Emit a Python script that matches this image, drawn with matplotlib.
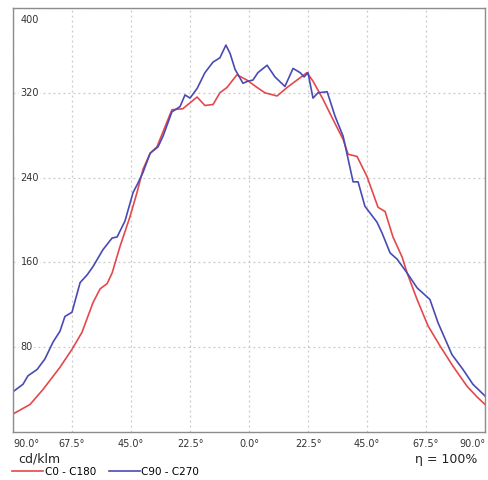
import numpy as np
import matplotlib.pyplot as plt
from matplotlib.ticker import FuncFormatter

# C0 - C180 plane (angle in degrees, intensity in cd/klm)
ang_c0 = [-90.0, -83.5, -78.6, -72.1, -67.5, -63.7, -59.5, -56.8, -54.1, -52.2,
          -49.2, -45.4, -42.7, -40.4, -37.7, -35.1, -29.4, -25.2, -19.8, -16.8,
          -13.7, -11.1, -8.4, -4.6, -0.8, 3.1, 6.1, 10.7, 14.5, 18.3,
          22.1, 24.4, 28.2, 32.0, 35.9, 37.8, 41.2, 45.0, 49.2, 51.9,
          54.9, 58.4, 60.3, 64.1, 68.3, 72.9, 77.8, 83.2, 87.0, 90.0]
val_c0 = [17, 26, 40, 61, 78, 94, 122, 135, 140, 150,
          175, 203, 226, 248, 263, 269, 304, 305, 316, 308,
          309, 320, 325, 337, 332, 325, 320, 317, 325, 332,
          339, 331, 314, 295, 276, 262, 260, 241, 212, 208,
          184, 165, 150, 125, 100, 81, 62, 43, 33, 26]

# C90 - C270 plane
ang_c90 = [-90.0, -86.2, -84.3, -80.8, -77.8, -74.7, -72.1, -70.2, -67.5, -64.4,
           -61.8, -59.5, -55.7, -52.2, -50.3, -47.3, -44.2, -42.3, -40.4, -37.7,
           -34.7, -32.8, -29.4, -26.3, -24.4, -22.5, -19.8, -16.8, -13.7, -11.1,
           -8.8, -7.2, -5.3, -2.3, -0.4, 1.5, 3.4, 6.9, 9.9, 13.7,
           16.8, 19.5, 21.0, 22.5, 24.4, 26.3, 29.8, 32.8, 35.9, 37.4,
           39.7, 41.6, 44.2, 48.8, 50.7, 53.8, 56.5, 60.3, 64.1, 69.0,
           72.1, 77.4, 81.6, 85.4, 90.0]
val_c90 = [38, 45, 53, 59, 69, 85, 95, 109, 113, 141,
           148, 156, 172, 183, 184, 199, 226, 235, 245, 263,
           269, 279, 302, 307, 318, 315, 324, 339, 349, 353,
           365, 357, 342, 329, 331, 332, 339, 346, 335, 326,
           343, 339, 335, 339, 315, 320, 321, 298, 279, 262,
           236, 236, 213, 198, 188, 169, 163, 150, 136, 125,
           103, 73, 59, 45, 34]

x_ticks = [-90, -67.5, -45, -22.5, 0, 22.5, 45, 67.5, 90]
y_ticks = [80, 160, 240, 320, 400]

red = '#e4484c'
blue = '#4a4ab4'
grid_c = '#c8c8c8'

fig = plt.figure(figsize=(4.88, 4.80), dpi=100)
ax = fig.add_axes([13/488, 48/480, 472/488, 424/480])

ax.plot(ang_c0, val_c0, color=red, lw=1.2, label='C0 - C180')
ax.plot(ang_c90, val_c90, color=blue, lw=1.2, label='C90 - C270')

ax.set_xlim(-90, 90)
ax.set_ylim(0, 400)
ax.set_xticks(x_ticks)
ax.xaxis.set_major_formatter(FuncFormatter(lambda v, p: f'{abs(v):.1f}°'))
ax.set_yticks(y_ticks)
ax.set_yticklabels([])
ax.tick_params(length=0, labelsize=7, colors='#333333', pad=5)
ax.grid(True, color=grid_c, ls=(0, (1.5, 2.5)), lw=0.9)

labs = ax.get_xticklabels()
labs[0].set_ha('left')
labs[-1].set_ha('right')

for s in ax.spines.values():
    s.set_color('#8c8c8c')
    s.set_linewidth(1.0)

# y tick labels drawn inside the axes
for yt in y_ticks:
    if yt == 400:
        ax.text(0.016, yt - 7, str(yt), transform=ax.get_yaxis_transform(),
                ha='left', va='top', fontsize=7, color='#333333',
                bbox=dict(fc='white', ec='none', pad=1))
    else:
        ax.text(0.016, yt, str(yt), transform=ax.get_yaxis_transform(),
                ha='left', va='center', fontsize=7, color='#333333',
                bbox=dict(fc='white', ec='none', pad=1))

fig.text(18/488, 1 - 459/480, 'cd/klm', ha='left', va='center',
         fontsize=9, color='#222222')
fig.text(477/488, 1 - 459/480, 'η = 100%', ha='right', va='center',
         fontsize=9, color='#222222')

fig.legend(loc='center left', bbox_to_anchor=(12/488, 1 - 472/480), ncol=2,
           frameon=False, fontsize=7.5, handlelength=3.0, handletextpad=0.15,
           columnspacing=1.2, borderaxespad=0, borderpad=0)

fig.savefig('out.png', dpi=100)
